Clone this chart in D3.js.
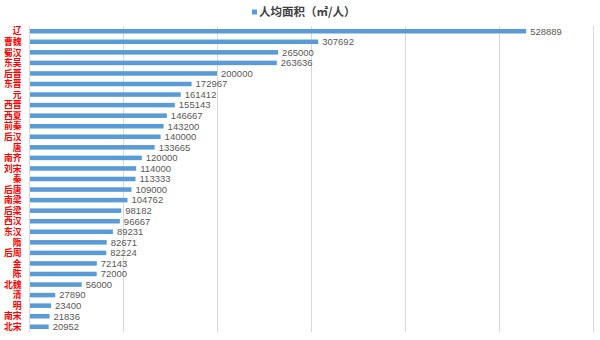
<!DOCTYPE html>
<html>
<head>
<meta charset="utf-8">
<script src="https://cdn.jsdelivr.net/npm/d3@7"></script>
<style>
  html, body { margin: 0; padding: 0; background: #fff; }
  svg { display: block; }
  .cat { font-family: "Noto Sans CJK SC", sans-serif; font-size: 8.8px; font-weight: bold; fill: #ff0000; }
  .val { font-family: "Liberation Sans", Arial, sans-serif; font-size: 9.5px; fill: #595959; }
  .title { font-family: "Noto Sans CJK SC", sans-serif; font-size: 11.5px; font-weight: bold; fill: #404040; }
</style>
</head>
<body>
<svg id="chart" width="600" height="340"></svg>
<script>
// Dynasties, ordered from largest to smallest per-capita area
const dynasties = ["辽","曹魏","蜀汉","东吴","后晋","东晋","元","西晋","西夏","前秦","后汉","唐","南齐","刘宋","秦","后唐","南梁","后梁","西汉","东汉","隋","后周","金","陈","北魏","清","明","南宋","北宋"];
const areaPerPerson = [528889,307692,265000,263636,200000,172967,161412,155143,146667,143200,140000,133665,120000,114000,113333,109000,104762,98182,96667,89231,82671,82224,72143,72000,56000,27890,23400,21836,20952];
const gridTicks = [0,100000,200000,300000,400000,500000,600000];
const seriesName = "人均面积（㎡/人）";

const rows = dynasties.map((name, i) => ({ name, value: areaPerPerson[i] }));

const svg = d3.select("#chart");
const margin = { top: 26, right: 7, bottom: 8, left: 29 };
const W = 600, H = 340;

const x = d3.scaleLinear().domain([0, 600000]).range([margin.left, W - margin.right]);
const y = d3.scaleBand().domain(dynasties).range([margin.top, H - margin.bottom]).paddingInner(0.57).paddingOuter(0.28);

// vertical gridlines
svg.append("g")
  .selectAll("line")
  .data(gridTicks)
  .join("line")
  .attr("x1", d => Math.round(x(d)) + 0.5)
  .attr("x2", d => Math.round(x(d)) + 0.5)
  .attr("y1", margin.top)
  .attr("y2", H - margin.bottom)
  .attr("stroke", "#d9d9d9")
  .attr("stroke-width", 1);

// bars
svg.append("g")
  .selectAll("rect")
  .data(rows)
  .join("rect")
  .attr("x", x(0) + 1)
  .attr("y", d => y(d.name))
  .attr("width", d => x(d.value) - x(0) - 1)
  .attr("height", y.bandwidth())
  .attr("fill", "#5b9bd5");

// value labels
svg.append("g")
  .selectAll("text")
  .data(rows)
  .join("text")
  .attr("class", "val")
  .attr("x", d => x(d.value) + 4)
  .attr("y", d => y(d.name) + y.bandwidth() / 2)
  .attr("dy", "0.35em")
  .text(d => d.value);

// category labels
svg.append("g")
  .selectAll("text")
  .data(rows)
  .join("text")
  .attr("class", "cat")
  .attr("x", 21.5)
  .attr("y", d => y(d.name) + y.bandwidth() / 2)
  .attr("dy", "0.36em")
  .attr("text-anchor", "end")
  .text(d => d.name);

// legend / title
const legend = svg.append("g").attr("transform", "translate(252,12)");
legend.append("rect")
  .attr("x", 0).attr("y", -2.5)
  .attr("width", 5).attr("height", 5)
  .attr("fill", "#5b9bd5");
legend.append("text")
  .attr("class", "title")
  .attr("x", 7)
  .attr("y", 0)
  .attr("dy", "0.36em")
  .text(seriesName);
</script>
</body>
</html>
